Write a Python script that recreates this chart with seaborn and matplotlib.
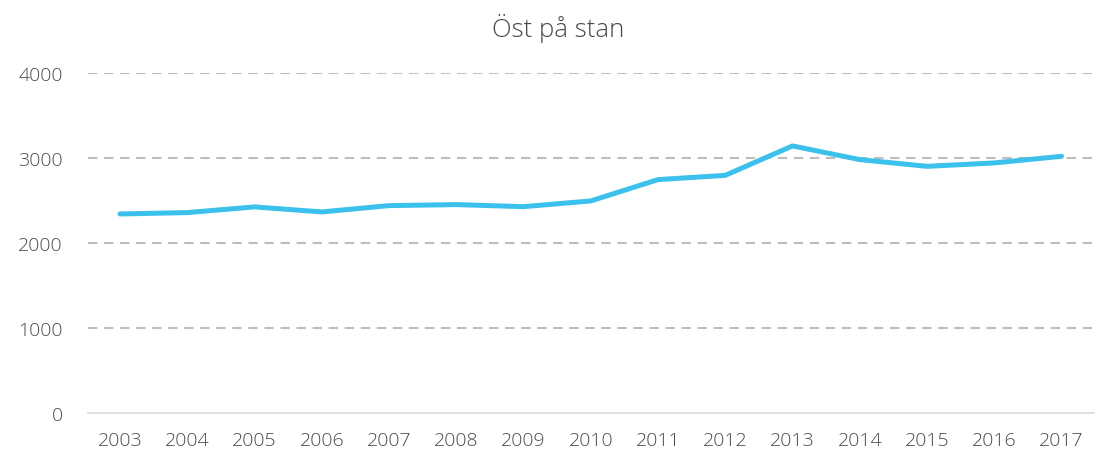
import matplotlib
matplotlib.use("Agg")
import matplotlib.pyplot as plt
import seaborn as sns
import pandas as pd

years = ["2003", "2004", "2005", "2006", "2007", "2008", "2009", "2010",
         "2011", "2012", "2013", "2014", "2015", "2016", "2017"]
values = [2341, 2357, 2424, 2365, 2439, 2451, 2427, 2494,
          2745, 2795, 3141, 2980, 2901, 2941, 3019]
yticks = [0, 1000, 2000, 3000, 4000]
title = "Öst på stan"

sns.set_theme(style="white")
plt.rcParams['font.family'] = ['Open Sans', 'DejaVu Sans']

df = pd.DataFrame({"year": years, "value": values})

fig = plt.figure(figsize=(10.96, 4.56), dpi=100)
ax = fig.add_axes([0.080, 0.092, 0.918, 0.746])

sns.lineplot(data=df, x="year", y="value", ax=ax, color="#3BC1EC",
             linewidth=3.6, solid_capstyle="round", solid_joinstyle="round", sort=False)

ax.set_ylim(0, 4000)
ax.set_xlim(-0.48, len(years) - 0.52)
ax.set_yticks(yticks)
ax.set_yticklabels([str(v) for v in yticks])
for v in yticks[1:]:
    ax.axhline(v, color="#BDBDBD", linewidth=1.5, linestyle=(0, (4.5, 3.2)), zorder=0)

for s in ["top", "right", "left"]:
    ax.spines[s].set_visible(False)
ax.spines["bottom"].set_color("#D9D9D9")
ax.spines["bottom"].set_linewidth(1.2)

ax.tick_params(axis="both", length=0, labelsize=14, labelcolor="#4A4A4A")
for lab in ax.get_xticklabels() + ax.get_yticklabels():
    lab.set_fontweight("light")
ax.tick_params(axis="y", pad=18)
ax.tick_params(axis="x", pad=13)
ax.set_xlabel("")
ax.set_ylabel("")
fig.text(0.509, 0.918, title, fontsize=18.5, color="#4A4A4A", fontweight="light",
         ha="center", va="baseline")

fig.savefig("out.png", dpi=100)
